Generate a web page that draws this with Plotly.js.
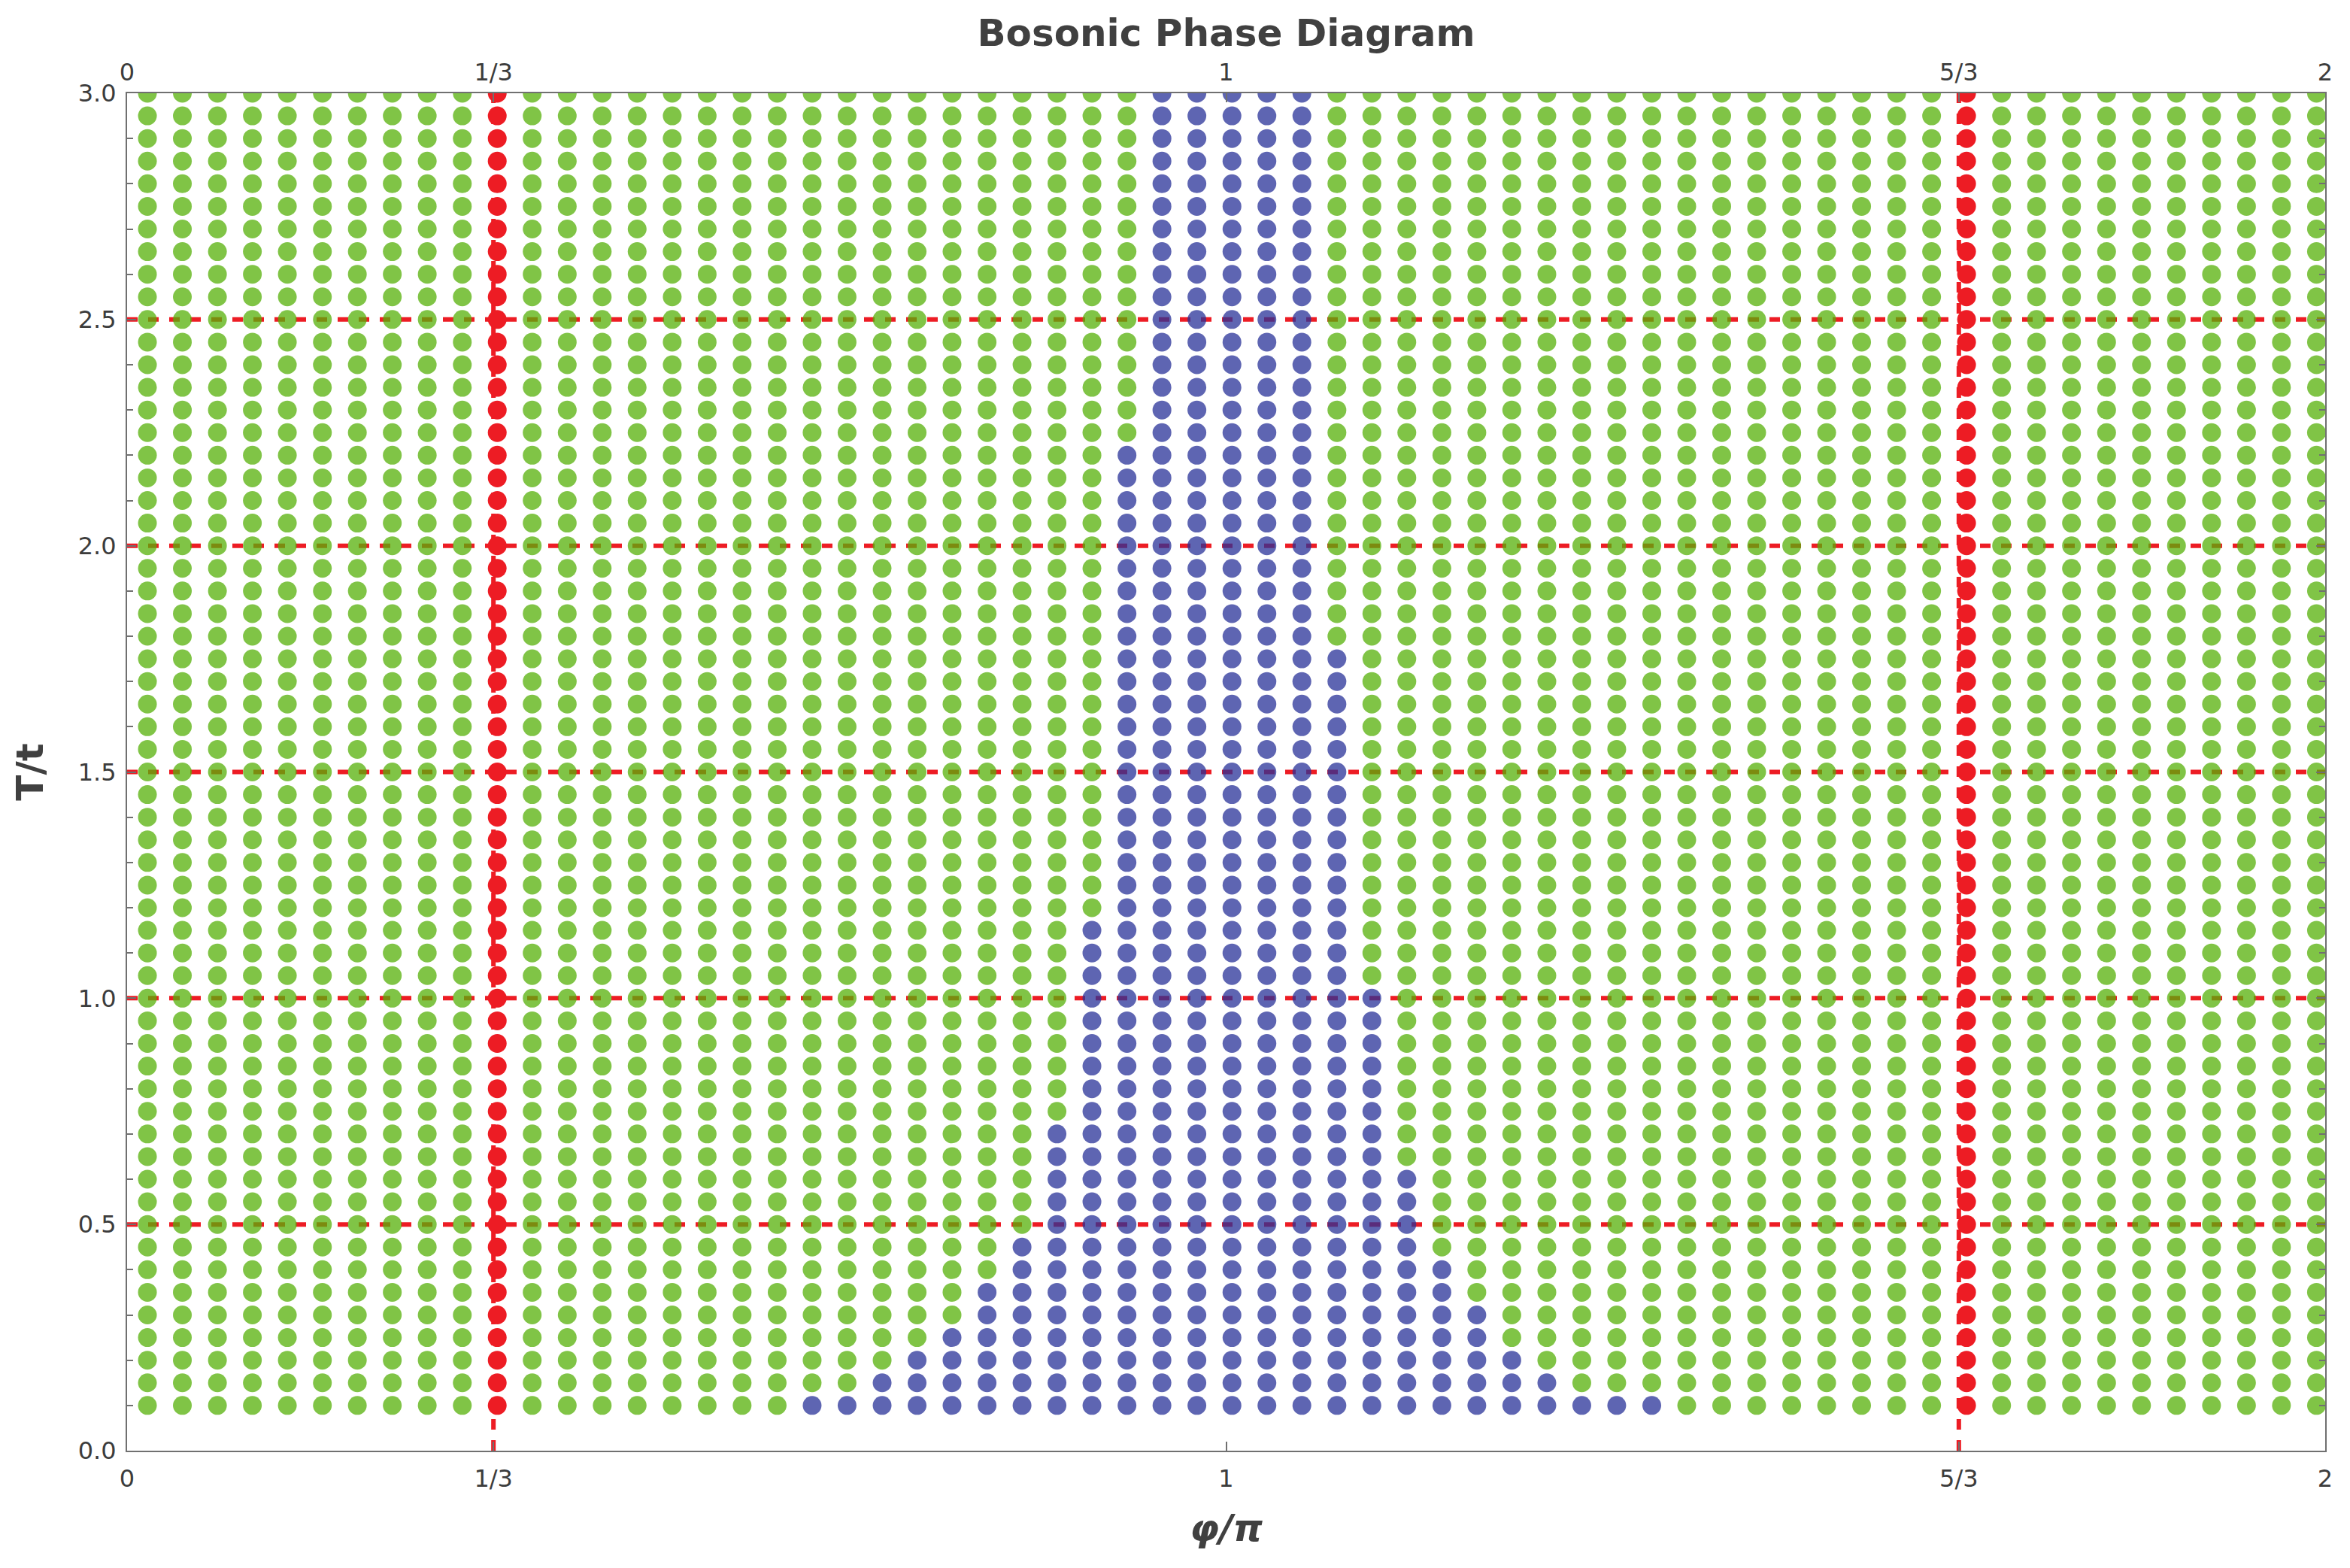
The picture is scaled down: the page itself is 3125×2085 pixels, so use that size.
<!DOCTYPE html>
<html>
<head>
<meta charset="utf-8">
<script src="https://cdn.plot.ly/plotly-3.0.1.min.js"></script>
<style>html,body{margin:0;padding:0;background:#fff;}#chart{width:3125px;height:2085px;}</style>
</head>
<body>
<div id="chart"></div>
<script>
// φ/π grid of the sampled points (63 columns)
const phiGrid = [
  0.0185, 0.0503, 0.0822, 0.1140, 0.1458, 0.1777, 0.2095, 0.2413, 0.2731, 0.3050,
  0.3368, 0.3686, 0.4005, 0.4323, 0.4641, 0.4960, 0.5278, 0.5596, 0.5915, 0.6233,
  0.6551, 0.6870, 0.7188, 0.7506, 0.7825, 0.8143, 0.8461, 0.8779, 0.9098, 0.9416,
  0.9734, 1.0053, 1.0371, 1.0689, 1.1008, 1.1326, 1.1644, 1.1963, 1.2281, 1.2599,
  1.2918, 1.3236, 1.3554, 1.3873, 1.4191, 1.4509, 1.4827, 1.5146, 1.5464, 1.5782,
  1.6101, 1.6419, 1.6737, 1.7056, 1.7374, 1.7692, 1.8011, 1.8329, 1.8647, 1.8966,
  1.9284, 1.9602, 1.9921
];
// T/t grid of the sampled points (59 rows)
const tGrid = [
  0.10, 0.15, 0.20, 0.25, 0.30, 0.35, 0.40, 0.45, 0.50, 0.55,
  0.60, 0.65, 0.70, 0.75, 0.80, 0.85, 0.90, 0.95, 1.00, 1.05,
  1.10, 1.15, 1.20, 1.25, 1.30, 1.35, 1.40, 1.45, 1.50, 1.55,
  1.60, 1.65, 1.70, 1.75, 1.80, 1.85, 1.90, 1.95, 2.00, 2.05,
  2.10, 2.15, 2.20, 2.25, 2.30, 2.35, 2.40, 2.45, 2.50, 2.55,
  2.60, 2.65, 2.70, 2.75, 2.80, 2.85, 2.90, 2.95, 3.00
];
// highest T/t of the blue phase in each column (0 = no blue point)
const blueTopT = [
  0, 0, 0, 0, 0, 0, 0, 0, 0, 0,
  0, 0, 0, 0, 0, 0, 0, 0, 0, 0.10,
  0.10, 0.15, 0.20, 0.25, 0.35, 0.45, 0.70, 1.15, 2.20, 3.00,
  3.00, 3.00, 3.00, 3.00, 1.75, 1.00, 0.60, 0.40, 0.30, 0.20,
  0.15, 0.10, 0.10, 0.10, 0, 0, 0, 0, 0, 0,
  0, 0, 0, 0, 0, 0, 0, 0, 0, 0,
  0, 0, 0
];
// columns drawn in red (index into phiGrid)
const redColumns = [10, 52];

const xTickVals = [0, 1/3, 1, 5/3, 2];
const xTickText = ['0', '1/3', '1', '5/3', '2'];
const dashedT = [0.5, 1.0, 1.5, 2.0, 2.5];
const dashedPhi = [1/3, 5/3];

const green = {x: [], y: []}, blue = {x: [], y: []}, red = {x: [], y: []};
phiGrid.forEach((phi, i) => {
  tGrid.forEach(t => {
    let tgt;
    if (redColumns.includes(i)) tgt = red;
    else if (t <= blueTopT[i] + 1e-9) tgt = blue;
    else tgt = green;
    tgt.x.push(phi); tgt.y.push(t);
  });
});

const MS = 25;
const traces = [
  {type: 'scatter', mode: 'markers', x: green.x, y: green.y, name: 'green phase',
   marker: {size: MS, color: 'rgb(86,176,8)', opacity: 0.75, line: {width: 0}}, hoverinfo: 'x+y'},
  {type: 'scatter', mode: 'markers', x: blue.x, y: blue.y, name: 'blue phase',
   marker: {size: MS, color: 'rgb(40,49,152)', opacity: 0.75, line: {width: 0}}, hoverinfo: 'x+y'},
  {type: 'scatter', mode: 'markers', x: red.x, y: red.y, name: 'red phase', xaxis: 'x2',
   marker: {size: MS, color: 'rgb(237,28,36)', opacity: 1, line: {width: 0}}, hoverinfo: 'x+y'}
];

const dashLine = {color: 'rgb(237,28,36)', width: 6, dash: '14px,14px'};
const shapes = [];
dashedT.forEach(t => shapes.push({type: 'line', xref: 'x', yref: 'y', x0: 0, x1: 2, y0: t, y1: t, line: dashLine, layer: 'below'}));
dashedPhi.forEach(p => shapes.push({type: 'line', xref: 'x', yref: 'y', x0: p, x1: p, y0: 0, y1: 3, line: dashLine, layer: 'below'}));

const FONT = 'DejaVu Sans';
const tickFont = {family: FONT, size: 32, color: '#3c3c3c'};
const axisCommon = {
  showgrid: false, zeroline: false, showline: true, linecolor: '#707070', linewidth: 2,
  ticks: 'inside', ticklen: 12, tickwidth: 2, tickcolor: '#707070', mirror: 'ticks',
  tickfont: tickFont
};

const layout = {
  width: 3125, height: 2085,
  margin: {l: 169, r: 33, t: 124, b: 156, pad: 0},
  paper_bgcolor: '#ffffff', plot_bgcolor: '#ffffff',
  showlegend: false,
  title: {text: 'Bosonic Phase Diagram', x: 0.5, xref: 'paper', y: 0.979, yref: 'container', yanchor: 'middle',
          font: {family: FONT, size: 50, weight: 'bold', color: '#404040'}},
  xaxis: Object.assign({}, axisCommon, {
    range: [0, 2], tickmode: 'array', tickvals: xTickVals, ticktext: xTickText,
    ticklabelstandoff: 8,
    title: {text: 'φ/π', standoff: 30, font: {family: FONT, size: 50, weight: 'bold', style: 'italic', color: '#404040'}}
  }),
  xaxis2: {
    overlaying: 'x', side: 'top', anchor: 'y', range: [0, 2], tickmode: 'array',
    tickvals: xTickVals, ticktext: xTickText, ticks: '', showline: false, showgrid: false, zeroline: false,
    tickfont: tickFont, ticklabelstandoff: 10
  },
  yaxis: Object.assign({}, axisCommon, {
    range: [0, 3], tick0: 0, dtick: 0.5, tickformat: '.1f',
    minor: {dtick: 0.1, ticks: 'inside', ticklen: 8, tickwidth: 2, tickcolor: '#707070', showgrid: false},
    ticklabelstandoff: 6,
    title: {text: 'T/t', standoff: 30, font: {family: FONT, size: 50, weight: 'bold', color: '#404040'}}
  }),
  shapes: shapes
};

Plotly.newPlot('chart', traces, layout, {staticPlot: true, displayModeBar: false});
</script>
</body>
</html>
